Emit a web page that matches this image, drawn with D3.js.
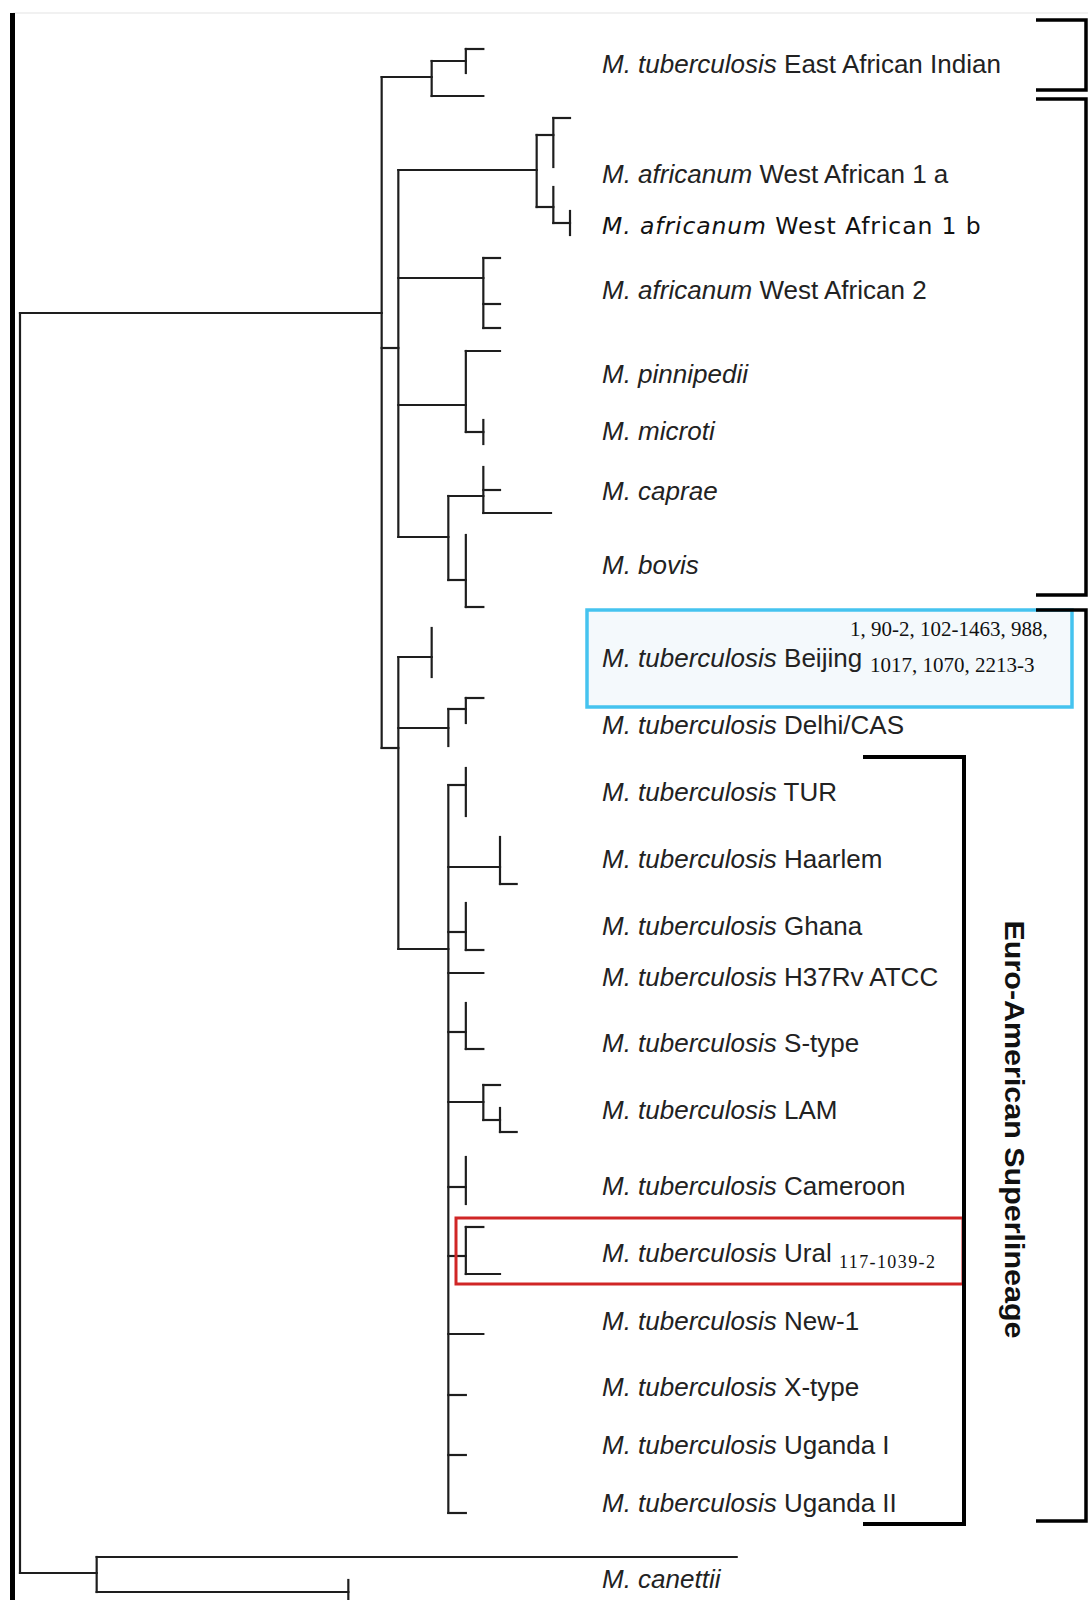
<!DOCTYPE html>
<html lang="en">
<head>
    <meta charset="UTF-8">
    <title>MTBC lineages</title>
    <script src="https://cdn.jsdelivr.net/npm/d3@7"></script>
    <style>
        body { margin: 0; background: #fff; }
        #chart svg { display: block; }
        .lbl { font-family: "Liberation Sans", Arial, sans-serif; font-size: 26px; fill: #222; }
        .num { font-family: "Liberation Serif", "Times New Roman", serif; fill: #111; }
    </style>
</head>
<body>
    <div id="chart"></div>

    <script>
        // tree edges: [node, parent, branch length, vertical position]
        const treeEdges = [
            ["root", null, 0, 31.3],
            ["mtbc", "root", 21.7, 31.3],
            ["eai", "mtbc", 3.0, 7.7],
            ["eai1", "eai", 2.05, 6.1],
            ["eai1a", "eai1", 1.05, 4.9],
            ["eai1b", "eai1", 0, 7.3],
            ["eai2", "eai", 3.1, 9.6],
            ["anc", "mtbc", 1.0, 34.8],
            ["wa1", "anc", 8.3, 17.0],
            ["wa1a", "wa1", 1.0, 13.5],
            ["wa1a1", "wa1a", 1.0, 11.8],
            ["wa1a2", "wa1a", 0, 16.7],
            ["wa1b", "wa1", 1.0, 20.7],
            ["wa1b1", "wa1b", 0, 18.7],
            ["wa1b2", "wa1b", 1.0, 22.3],
            ["wa1b2a", "wa1b2", 0, 21.1],
            ["wa1b2b", "wa1b2", 0, 23.5],
            ["wa2", "anc", 5.1, 27.8],
            ["wa2a", "wa2", 1.0, 25.8],
            ["wa2b", "wa2", 1.0, 30.4],
            ["wa2c", "wa2", 1.0, 32.8],
            ["pm", "anc", 4.05, 40.5],
            ["pin", "pm", 2.05, 35.1],
            ["mic", "pm", 1.05, 43.2],
            ["mic1", "mic", 0, 42.0],
            ["mic2", "mic", 0, 44.4],
            ["cb", "anc", 3.0, 53.7],
            ["cap", "cb", 2.1, 49.6],
            ["cap1", "cap", 0, 46.7],
            ["cap2", "cap", 1.0, 49.0],
            ["cap3", "cap", 4.06, 51.3],
            ["bov", "cb", 1.05, 58.0],
            ["bov1", "bov", 0, 53.5],
            ["bov2", "bov", 1.05, 60.7],
            ["mod", "mtbc", 1.0, 74.8],
            ["bei", "mod", 2.0, 65.7],
            ["bei1", "bei", 0, 62.8],
            ["bei2", "bei", 0, 67.7],
            ["cas", "mod", 3.0, 72.8],
            ["cas1", "cas", 1.05, 70.9],
            ["cas1a", "cas1", 1.05, 69.8],
            ["cas1b", "cas1", 0, 72.3],
            ["cas2", "cas", 0, 74.6],
            ["ea", "mod", 3.0, 94.9],
            ["tur", "ea", 1.05, 78.5],
            ["tur1", "tur", 0, 76.8],
            ["tur2", "tur", 0, 81.6],
            ["haa", "ea", 3.1, 86.7],
            ["haa1", "haa", 0, 83.7],
            ["haa2", "haa", 1.0, 88.4],
            ["gha", "ea", 1.05, 93.2],
            ["gha1", "gha", 0, 90.3],
            ["gha2", "gha", 1.05, 95.0],
            ["h37", "ea", 2.1, 97.3],
            ["sty", "ea", 1.05, 103.2],
            ["sty1", "sty", 0, 100.3],
            ["sty2", "sty", 1.05, 104.9],
            ["lam", "ea", 2.1, 110.2],
            ["lam1", "lam", 1.0, 108.5],
            ["lam2", "lam", 1.0, 112.0],
            ["lam2a", "lam2", 0, 110.8],
            ["lam2b", "lam2", 1.0, 113.2],
            ["cam", "ea", 1.05, 118.7],
            ["cam1", "cam", 0, 115.7],
            ["cam2", "cam", 0, 120.4],
            ["ura", "ea", 1.05, 125.6],
            ["ura1", "ura", 1.05, 122.7],
            ["ura2", "ura", 2.05, 127.4],
            ["new", "ea", 2.1, 133.4],
            ["xty", "ea", 1.05, 139.5],
            ["ug1", "ea", 1.05, 145.5],
            ["ug2", "ea", 1.05, 151.3],
            ["can", "root", 4.6, 157.3],
            ["can1", "can", 38.4, 155.7],
            ["can2", "can", 15.1, 159.2],
            ["can2a", "can2", 0, 158.0],
            ["can2b", "can2", 0, 164.0]
        ];

        // tip labels
        const labelItalic = [
            "M. tuberculosis", "M. africanum", "M. africanum", "M. africanum",
            "M. pinnipedii", "M. microti", "M. caprae", "M. bovis",
            "M. tuberculosis", "M. tuberculosis", "M. tuberculosis", "M. tuberculosis",
            "M. tuberculosis", "M. tuberculosis", "M. tuberculosis", "M. tuberculosis",
            "M. tuberculosis", "M. tuberculosis", "M. tuberculosis", "M. tuberculosis",
            "M. tuberculosis", "M. tuberculosis", "M. canettii"
        ];
        const labelRoman = [
            "East African Indian", "West African 1 a", "West African 1 b", "West African 2",
            "", "", "", "",
            "Beijing", "Delhi/CAS", "TUR", "Haarlem",
            "Ghana", "H37Rv ATCC", "S-type", "LAM",
            "Cameroon", "Ural", "New-1", "X-type",
            "Uganda I", "Uganda II", ""
        ];
        const labelPos = [
            6.4, 17.35, 22.55, 29.0, 37.35, 43.1, 49.1, 56.5,
            65.8, 72.5, 79.2, 85.9, 92.6, 97.7, 104.3, 111.0,
            118.6, 125.3, 132.1, 138.7, 144.5, 150.3, 157.9
        ];

        // strain numbers
        const beijingStrains = ["1, 90-2, 102-1463, 988,", "1017, 1070, 2213-3"];
        const uralStrains = ["117-1039-2"];

        // lineage brackets [top, bottom]
        const groupBrackets = [[2.0, 9.0], [9.9, 59.5], [61.0, 152.1]];
        const euroBracket = [75.7, 152.4];
        const euroTitle = "Euro-American Superlineage";

        const width = 1088, height = 1600;

        const x = d3.scaleLinear().domain([0, 42]).range([20, 720]);
        const y = d3.scaleLinear().domain([0, 160]).range([0, 1600]);

        const svg = d3.select("#chart")
            .append("svg")
            .attr("width", width)
            .attr("height", height);

        // frame: faint top rule + heavy left bar
        svg.append("line")
            .attr("x1", 13).attr("x2", width).attr("y1", 13).attr("y2", 13)
            .attr("stroke", "#ececec").attr("stroke-width", 1.5);
        svg.append("rect")
            .attr("x", 10).attr("y", 13).attr("width", 5).attr("height", height - 13)
            .attr("fill", "#000");

        // highlight box behind the Beijing label
        svg.append("rect")
            .attr("x", 587).attr("y", 610).attr("width", 485).attr("height", 97)
            .attr("fill", "#f4f9fc").attr("stroke", "#45c3ef").attr("stroke-width", 3.5);

        // tree
        const root = d3.stratify().id(d => d[0]).parentId(d => d[1])(treeEdges);
        root.eachBefore(n => n.dist = (n.parent ? n.parent.dist : 0) + n.data[2]);

        const g = svg.append("g")
            .attr("stroke", "#1e1e1e")
            .attr("stroke-width", 2.2)
            .attr("stroke-linecap", "square")
            .attr("fill", "none");

        g.selectAll("line.h")
            .data(root.descendants().filter(n => n.parent && n.data[2] > 0))
            .join("line")
            .attr("class", "h")
            .attr("x1", n => x(n.parent.dist))
            .attr("x2", n => x(n.dist))
            .attr("y1", n => y(n.data[3]))
            .attr("y2", n => y(n.data[3]));

        g.selectAll("line.v")
            .data(root.descendants().filter(n => n.children))
            .join("line")
            .attr("class", "v")
            .attr("x1", n => x(n.dist))
            .attr("x2", n => x(n.dist))
            .attr("y1", n => y(d3.min(n.children, c => c.data[3])))
            .attr("y2", n => y(d3.max(n.children, c => c.data[3])));

        // red box on top of the Ural clade
        svg.append("rect")
            .attr("x", 456).attr("y", 1218).attr("width", 507).attr("height", 66)
            .attr("fill", "none").attr("stroke", "#d02626").attr("stroke-width", 3);

        // tip labels
        const labels = svg.append("g");
        labelItalic.forEach((it, i) => {
            const t = labels.append("text")
                .attr("class", "lbl")
                .attr("x", 602)
                .attr("y", y(labelPos[i]))
                .attr("dy", "0.36em");
            if (labelRoman[i] === "West African 1 b") {
                t.style("font-family", "'DejaVu Sans', sans-serif")
                    .style("font-size", "23.5px")
                    .style("letter-spacing", "0.9px")
                    .style("fill", "#111");
            }
            t.append("tspan").attr("font-style", "italic").text(it);
            if (labelRoman[i]) t.append("tspan").text(" " + labelRoman[i]);
        });

        // strain numbers
        svg.append("g").attr("class", "num").attr("font-size", 21)
            .selectAll("text")
            .data(beijingStrains)
            .join("text")
            .attr("x", (d, i) => i === 0 ? 850 : 870)
            .attr("y", (d, i) => i === 0 ? 636 : 672)
            .text(d => d);

        svg.append("text")
            .attr("class", "num")
            .attr("font-size", 18)
            .attr("letter-spacing", 1.4)
            .attr("x", 839).attr("y", 1268)
            .text(uralStrains[0]);

        // right-hand brackets
        const bracket = (x0, x1, top, bottom, w) => {
            svg.append("path")
                .attr("d", `M${x0},${y(top)}H${x1}V${y(bottom)}H${x0}`)
                .attr("fill", "none")
                .attr("stroke", "#000")
                .attr("stroke-width", w);
        };
        groupBrackets.forEach(b => bracket(1036, 1086, b[0], b[1], 3.5));
        bracket(863, 964, euroBracket[0], euroBracket[1], 4);

        svg.append("text")
            .attr("transform", `translate(1005,${y((euroBracket[0] + euroBracket[1]) / 2) - 11}) rotate(90)`)
            .attr("text-anchor", "middle")
            .attr("font-family", "'Liberation Sans', Arial, sans-serif")
            .attr("font-weight", "bold")
            .attr("font-size", 28)
            .attr("textLength", 418)
            .attr("lengthAdjust", "spacingAndGlyphs")
            .attr("fill", "#111")
            .text(euroTitle);
    </script>
</body>
</html>
